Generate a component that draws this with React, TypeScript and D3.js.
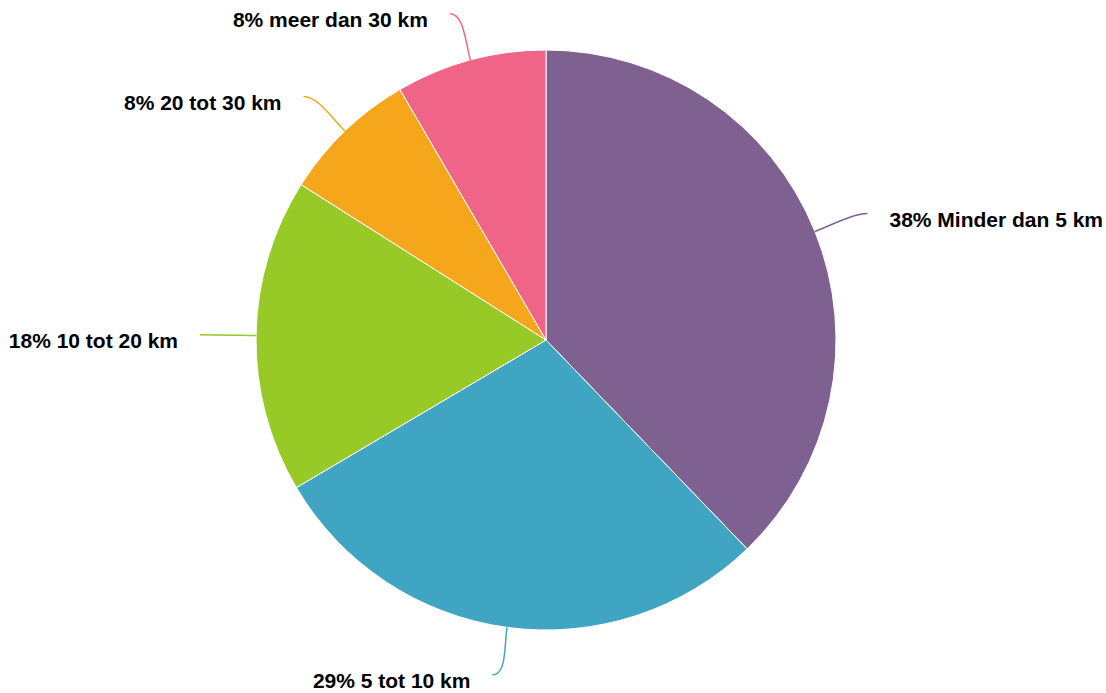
import React from "react";
import * as d3 from "d3";

const categories = ["Minder dan 5 km", "5 tot 10 km", "10 tot 20 km", "20 tot 30 km", "meer dan 30 km"];
const values = [37.8, 28.7, 17.5, 7.6, 8.4];
const colors = ["#7e6190", "#40a4c3", "#97c927", "#f5a61a", "#f06488"];

const width = 1106;
const height = 693;
const cx = 546;
const cy = 340;
const radius = 290;
const labelDist = 48;
const connectorPad = 8;

export default function App() {
  const pie = d3.pie<number>().sort(null).value((d) => d);
  const arcs = pie(values);
  const arc = d3.arc<d3.PieArcDatum<number>>().innerRadius(0).outerRadius(radius);
  const total = d3.sum(values);

  return (
    <svg width={width} height={height} style={{ position: "absolute", left: 0, top: 0 }}
      fontFamily="'Liberation Sans', Arial, sans-serif">
      <g transform={`translate(${cx},${cy})`}>
        {arcs.map((a, i) => (
          <path key={i} d={arc(a) || ""} fill={colors[i]} stroke="#ffffff" strokeWidth={1} strokeLinejoin="round" />
        ))}
        {arcs.map((a, i) => {
          const mid = (a.startAngle + a.endAngle) / 2;
          const sx = Math.sin(mid), sy = -Math.cos(mid);
          const right = sx > 0;
          const p0 = [radius * sx, radius * sy];
          const c1 = [(radius + 20) * sx, (radius + 20) * sy];
          const end = [(radius + labelDist) * sx + (right ? connectorPad : -connectorPad), (radius + labelDist) * sy];
          const c2 = [end[0] + (right ? -14 : 14), end[1]];
          const pct = Math.round((values[i] / total) * 100);
          return (
            <g key={"l" + i}>
              <path d={`M${p0[0]},${p0[1]}C${c1[0]},${c1[1]} ${c2[0]},${c2[1]} ${end[0]},${end[1]}`}
                fill="none" stroke={colors[i]} strokeWidth={1.5} />
              <text x={end[0] + (right ? 22 : -22)} y={end[1] + 13} textAnchor={right ? "start" : "end"}
                fontSize={21} fontWeight="bold" fill="#000000">
                {pct}% {categories[i]}
              </text>
            </g>
          );
        })}
      </g>
    </svg>
  );
}
